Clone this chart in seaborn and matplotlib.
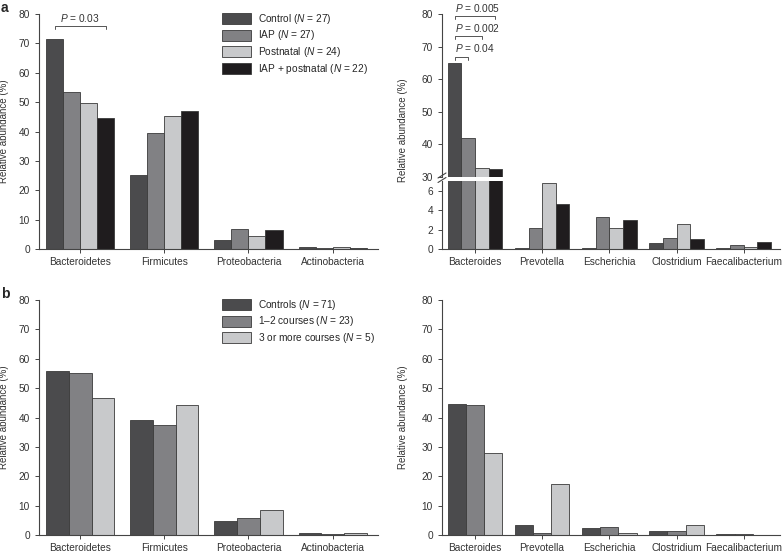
import matplotlib
matplotlib.use("Agg")
import matplotlib.pyplot as plt
import pandas as pd
import seaborn as sns


PHYLA = ["Bacteroidetes", "Firmicutes", "Proteobacteria", "Actinobacteria"]
GENERA = ["Bacteroides", "Prevotella", "Escherichia", "Clostridium", "Faecalibacterium"]

# panel a: intrapartum / postnatal antibiotic groups
GROUPS_A = ["Control", "IAP", "Postnatal", "IAP + postnatal"]
N_A = [27, 27, 24, 22]
COLORS_A = ["#4b4b4d", "#808184", "#c8c9cb", "#1f1c1e"]

CONTROL_PHYLA_A = [71.5, 25.2, 2.9, 0.7]
IAP_PHYLA_A = [53.4, 39.5, 6.8, 0.35]
POSTNATAL_PHYLA_A = [49.6, 45.2, 4.4, 0.7]
IAP_POSTNATAL_PHYLA_A = [44.6, 47.0, 6.5, 0.35]

CONTROL_GENERA_A = [65.0, 0.14, 0.1, 0.6, 0.15]
IAP_GENERA_A = [42.1, 2.2, 3.25, 1.1, 0.4]
POSTNATAL_GENERA_A = [32.9, 6.75, 2.2, 2.55, 0.22]
IAP_POSTNATAL_GENERA_A = [32.5, 4.6, 3.0, 1.0, 0.7]

# panel b: number of antibiotic courses
GROUPS_B = ["Controls", "1\u20132 courses", "3 or more courses"]
N_B = [71, 23, 5]
COLORS_B = ["#4b4b4d", "#808184", "#c8c9cb"]

CONTROLS_PHYLA_B = [56.0, 39.0, 4.75, 0.55]
COURSES_1_2_PHYLA_B = [55.1, 37.4, 5.8, 0.35]
COURSES_3_PHYLA_B = [46.7, 44.2, 8.6, 0.8]

CONTROLS_GENERA_B = [44.5, 3.3, 2.3, 1.25, 0.45]
COURSES_1_2_GENERA_B = [44.2, 0.8, 2.7, 1.5, 0.35]
COURSES_3_GENERA_B = [27.8, 17.4, 0.7, 3.5, 0.1]

# significance brackets: (group index, group index, height, label)
P_PHYLA_A = [(0, 3, 75.9, "0.03")]
P_GENERA_A = [(0, 3, 79.4, "0.005"), (0, 2, 73.3, "0.002"), (0, 1, 66.9, "0.04")]

FS = 7.3
INK = "#333333"


def to_long(categories: list, groups: list, series: list) -> pd.DataFrame:
    rows = []
    for g, vals in zip(groups, series):
        for c, v in zip(categories, vals):
            rows.append({"taxon": c, "group": g, "value": v})
    return pd.DataFrame(rows)


def draw_bars(ax, df, categories, groups, colors):
    sns.barplot(
        data=df, x="taxon", y="value", hue="group",
        order=categories, hue_order=groups, palette=colors,
        width=0.81, gap=0, errorbar=None, edgecolor="#3a3a3a",
        linewidth=0.6, ax=ax,
    )
    ax.set_xlim(-0.49, len(categories) - 0.46)
    ax.set_xlabel("")
    ax.set_ylabel("")
    for s in ["top", "right"]:
        ax.spines[s].set_visible(False)
    for s in ["left", "bottom"]:
        ax.spines[s].set_color("#444444")
        ax.spines[s].set_linewidth(0.8)
    ax.tick_params(axis="both", labelsize=FS, colors=INK, length=3, width=0.7,
                   direction="out", color="#444444")
    ax.tick_params(axis="x", pad=2.5)


def add_legend(ax, groups, counts):
    handles, _ = ax.get_legend_handles_labels()
    labels = [f"{g} ($N$ = {n})" for g, n in zip(groups, counts)]
    ax.legend(
        handles, labels, loc="upper left", bbox_to_anchor=(0.54, 1.01),
        frameon=False, fontsize=FS, borderpad=0, handlelength=2.9,
        handleheight=1.3, handletextpad=0.6, labelspacing=0.28,
        borderaxespad=0,
    )


def add_brackets(ax, brackets, align="center", drop=1.0):
    for i, j, y, p in brackets:
        b0 = ax.containers[i][0]
        b1 = ax.containers[j][0]
        x0 = b0.get_x() + b0.get_width() / 2
        x1 = b1.get_x() + b1.get_width() / 2
        ax.plot([x0, x0, x1, x1], [y - drop, y, y, y - drop], color="#555555",
                lw=0.7, clip_on=False)
        if align == "center":
            ax.text((x0 + x1) / 2, y + 0.7, f"$P$ = {p}", ha="center", va="bottom",
                    fontsize=FS, color=INK, clip_on=False)
        else:
            ax.text(x0, y + 0.7, f"$P$ = {p}", ha="left", va="bottom",
                    fontsize=FS, color=INK, clip_on=False)


sns.set_style("ticks")
plt.rcParams["font.family"] = ["Liberation Sans", "DejaVu Sans"]
plt.rcParams["mathtext.fontset"] = "custom"
plt.rcParams["mathtext.rm"] = "Liberation Sans"
plt.rcParams["mathtext.it"] = "Liberation Sans:italic"

W, H = 783, 553
fig = plt.figure(figsize=(W / 100, H / 100), dpi=100)


def box(x0, y0, x1, y1):
    # pixel box (top-left origin) -> figure fraction
    return [x0 / W, 1 - y1 / H, (x1 - x0) / W, (y1 - y0) / H]


ylab = "Relative abundance (%)"

# a, left: phyla
ax1 = fig.add_axes(box(39, 14, 378, 249))
df1 = to_long(PHYLA, GROUPS_A,
              [CONTROL_PHYLA_A, IAP_PHYLA_A, POSTNATAL_PHYLA_A, IAP_POSTNATAL_PHYLA_A])
draw_bars(ax1, df1, PHYLA, GROUPS_A, COLORS_A)
ax1.set_ylim(0, 80)
ax1.set_yticks(range(0, 81, 10))
add_legend(ax1, GROUPS_A, N_A)
add_brackets(ax1, P_PHYLA_A)
ax1.set_ylabel(ylab, fontsize=7, color=INK)
ax1.yaxis.set_label_coords(-0.089, 0.5)

# a, right: genera with broken axis
df2 = to_long(GENERA, GROUPS_A,
              [CONTROL_GENERA_A, IAP_GENERA_A, POSTNATAL_GENERA_A, IAP_POSTNATAL_GENERA_A])
ax2u = fig.add_axes(box(442, 14, 780, 177))
ax2l = fig.add_axes(box(442, 181, 780, 249))
for ax in (ax2u, ax2l):
    draw_bars(ax, df2, GENERA, GROUPS_A, COLORS_A)
    ax.get_legend().remove()
ax2u.set_ylim(30, 80)
ax2u.set_yticks(range(30, 81, 10))
ax2u.spines["bottom"].set_visible(False)
ax2u.tick_params(axis="x", bottom=False, labelbottom=False)
ax2l.set_ylim(0, 7.0)
ax2l.set_yticks([0, 2, 4, 6])
add_brackets(ax2u, P_GENERA_A, align="left", drop=1.0)
ax2u.set_ylabel(ylab, fontsize=7, color=INK)
ax2u.yaxis.set_label_coords(-0.1, 0.29)

# break marks on the y axis
xs = 442 / W
for yy in (175.5, 180.0):
    yf = 1 - yy / H
    fig.add_artist(plt.Line2D([xs - 4 / W, xs + 4 / W], [yf - 2.5 / H, yf + 2.5 / H],
                              transform=fig.transFigure, color="#444444", lw=0.8))

# b, left: phyla
ax3 = fig.add_axes(box(39, 300, 378, 535))
df3 = to_long(PHYLA, GROUPS_B, [CONTROLS_PHYLA_B, COURSES_1_2_PHYLA_B, COURSES_3_PHYLA_B])
draw_bars(ax3, df3, PHYLA, GROUPS_B, COLORS_B)
ax3.set_ylim(0, 80)
ax3.set_yticks(range(0, 81, 10))
add_legend(ax3, GROUPS_B, N_B)
ax3.set_ylabel(ylab, fontsize=7, color=INK)
ax3.yaxis.set_label_coords(-0.089, 0.5)

# b, right: genera
ax4 = fig.add_axes(box(442, 300, 780, 535))
df4 = to_long(GENERA, GROUPS_B, [CONTROLS_GENERA_B, COURSES_1_2_GENERA_B, COURSES_3_GENERA_B])
draw_bars(ax4, df4, GENERA, GROUPS_B, COLORS_B)
ax4.get_legend().remove()
ax4.set_ylim(0, 80)
ax4.set_yticks(range(0, 81, 10))
ax4.set_ylabel(ylab, fontsize=7, color=INK)
ax4.yaxis.set_label_coords(-0.1, 0.5)

fig.text(1 / W, 1 - 1 / H, "a", fontsize=10, fontweight="bold", va="top", ha="left")
fig.text(1 / W, 1 - 287 / H, "b", fontsize=10, fontweight="bold", va="top", ha="left")

fig.savefig("out.png", dpi=100)
